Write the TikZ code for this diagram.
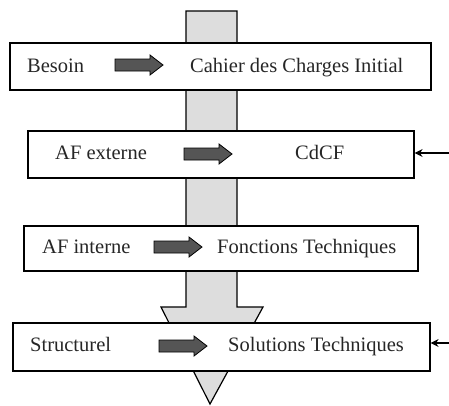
\documentclass[tikz,border=0pt]{standalone}
\usepackage{fontspec}
\setmainfont{Liberation Serif}
\usetikzlibrary{arrows.meta}
\definecolor{biggray}{HTML}{DDDDDD}
\definecolor{smallgray}{HTML}{555555}
\tikzset{
  box/.style={draw=black, line width=1.2pt, fill=white, inner sep=0pt},
  lbl/.style={anchor=base west, inner sep=0pt, text=black!85, font=\fontsize{20.5}{24}\selectfont},
  bigarrow/.style={draw=black, line width=1.2pt, fill=biggray},
  smallarr/.pic={\path[draw=black, line width=0.8pt, fill=smallgray]
     (0,-6) -- (35,-6) -- (35,-10) -- (48,0) -- (35,10) -- (35,6) -- (0,6) -- cycle;},
  sidearrow/.style={draw=black, line width=1.3pt, -{Stealth[length=8pt,width=8pt]}}
}
\begin{document}
\begin{tikzpicture}[x=1pt,y=-1pt]
\useasboundingbox (0,0) rectangle (449,405);
% big gray arrow
\path[bigarrow] (186,11) -- (237,11) -- (237,307) -- (263,307) -- (210,404) -- (161,307) -- (186,307) -- cycle;
% boxes
\node[box, minimum width=421pt, minimum height=47pt] (b1) at (220.5,66.5) {};
\node[box, minimum width=386pt, minimum height=47pt] (b2) at (221,154.5) {};
\node[box, minimum width=394pt, minimum height=45pt] (b3) at (221,248.5) {};
\node[box, minimum width=417pt, minimum height=48pt] (b4) at (221.5,347) {};
% labels
\node[lbl] (t1a) at (27,72) {Besoin};
\node[lbl] (t1b) at (190,72) {Cahier des Charges Initial};
\node[lbl] (t2a) at (55,159.5) {AF externe};
\node[lbl] (t2b) at (295,159.5) {CdCF};
\node[lbl] (t3a) at (42,253) {AF interne};
\node[lbl] (t3b) at (217,253) {Fonctions Techniques};
\node[lbl] (t4a) at (30,351.5) {Structurel};
\node[lbl] (t4b) at (228,351.5) {Solutions Techniques};
% small arrows
\pic at (115,65) {smallarr};
\pic at (184,154) {smallarr};
\pic at (154,247) {smallarr};
\pic at (159,346) {smallarr};
% side arrows
\coordinate (s2) at (449,153);
\coordinate (s4) at (449,343);
\draw[sidearrow] (s2) -- (b2.east |- s2);
\draw[sidearrow] (s4) -- (b4.east |- s4);
\end{tikzpicture}
\end{document}
